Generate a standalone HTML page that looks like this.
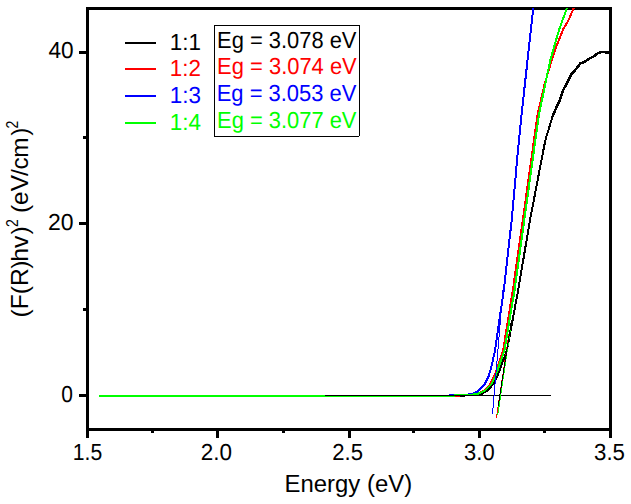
<!DOCTYPE html>
<html><head><meta charset="utf-8"><title>Tauc plot</title>
<style>
html,body{margin:0;padding:0;background:#fff;}
svg{display:block;font-family:"Liberation Sans",sans-serif;}
</style></head><body>
<svg width="631" height="504" viewBox="0 0 631 504">
<rect width="631" height="504" fill="#fff"/>
<g fill="#000" shape-rendering="crispEdges">
<rect x="86" y="7" width="526" height="3"/>
<rect x="86" y="428" width="526" height="3"/>
<rect x="86" y="7" width="3" height="431"/>
<rect x="609" y="7" width="3" height="431"/>
<rect x="86" y="431" width="3" height="7"/><rect x="216" y="431" width="3" height="7"/><rect x="348" y="431" width="3" height="7"/><rect x="478" y="431" width="3" height="7"/><rect x="609" y="431" width="3" height="7"/><rect x="151" y="431" width="3" height="2"/><rect x="282" y="431" width="3" height="2"/><rect x="412" y="431" width="3" height="2"/><rect x="543" y="431" width="3" height="2"/><rect x="79" y="394" width="7" height="3"/><rect x="79" y="222" width="7" height="3"/><rect x="79" y="51" width="7" height="3"/><rect x="83" y="308" width="3" height="3"/><rect x="83" y="136" width="3" height="3"/>
</g>
<g fill="none" stroke-width="2" stroke-linejoin="round" shape-rendering="crispEdges">
<polyline stroke="#000" points="99.0,396.0 464.0,396.0 465.0,395.0 474.0,395.0 481.8,393.8 487.5,390.6 493.2,384.2 497.7,375.4 507.0,350.0 518.2,290.0 530.0,220.0 543.4,150.0 545.8,138.3 548.9,128.6 553.0,115.0 559.8,100.0 563.3,90.0 566.9,82.9 571.7,73.9 576.4,68.6 580.6,63.2 584.8,61.8 589.5,58.5 594.3,56.1 597.9,53.3 601.0,52.0 609.0,52.0"/>
<polyline stroke="#000" stroke-width="2.6" points="553.0,115.0 559.8,100.0 563.3,90.0 566.9,82.9 571.7,73.9 576.4,68.6 580.6,63.2 584.8,61.8 589.5,58.5 594.3,56.1 597.9,53.3 601.0,52.0 609.0,52.0"/>
<rect x="605" y="51" width="4" height="3" fill="#000"/>
<polyline stroke="#f00" points="99.0,396.0 459.0,396.0 460.0,395.0 470.0,395.0 477.0,393.8 484.0,390.6 490.2,384.2 494.6,375.4 499.9,360.0 503.2,350.0 508.0,320.0 512.9,290.0 522.8,220.0 532.6,150.0 537.5,115.0 544.4,85.0 551.5,60.6 557.0,44.7 563.4,28.8 568.2,20.9 573.7,8.0"/>
<polyline stroke="#00f" points="99.0,396.0 449.0,396.0 449.5,395.0 465.0,395.0 471.6,394.0 477.4,391.5 484.3,385.0 488.8,376.0 492.2,363.5 495.1,350.0 499.0,323.0 503.8,290.0 511.7,220.0 518.0,150.0 521.5,115.0 524.8,85.0 533.3,8.0"/>
<polyline stroke="#0f0" points="99.0,396.0 454.0,396.0 455.0,395.0 470.0,395.0 478.0,393.8 485.0,390.6 491.3,384.2 495.8,375.4 504.5,350.0 514.6,290.0 524.3,220.0 534.0,150.0 538.9,115.0 545.5,83.0 550.2,60.6 554.7,44.7 559.4,28.8 567.0,8.0"/>
</g>
<g fill="none" stroke-width="1" shape-rendering="crispEdges">
<line stroke="#000" x1="325" y1="395.5" x2="551" y2="395.5"/>
<line stroke="#00f" x1="492.5" y1="414" x2="503" y2="290"/>
<line stroke="#f00" x1="496.3" y1="418.4" x2="509.6" y2="330"/>
<line stroke="#0f0" x1="497.7" y1="415.4" x2="510.3" y2="330"/>
<line stroke="#000" x1="498.2" y1="406" x2="511.5" y2="320"/>
</g>
<g fill="#000" shape-rendering="crispEdges"><rect x="214" y="25" width="146" height="1"/><rect x="214" y="25" width="1" height="112"/><rect x="359" y="25" width="1" height="111"/><rect x="214" y="136" width="145" height="1"/></g>
<rect x="125" y="42" width="31" height="2" fill="#000" shape-rendering="crispEdges"/><rect x="125" y="68" width="31" height="2" fill="#f00" shape-rendering="crispEdges"/><rect x="125" y="95" width="31" height="2" fill="#00f" shape-rendering="crispEdges"/><rect x="125" y="122" width="31" height="2" fill="#0f0" shape-rendering="crispEdges"/>
<text id="x15" transform="translate(72.73,459.95) rotate(0.05)" font-size="23.3px" fill="#000" textLength="29.43" lengthAdjust="spacingAndGlyphs">1.5</text>
<text id="x20" transform="translate(200.77,459.95) rotate(0.05)" font-size="23.3px" fill="#000" textLength="31.22" lengthAdjust="spacingAndGlyphs">2.0</text>
<text id="x25" transform="translate(332.30,459.95) rotate(0.05)" font-size="23.3px" fill="#000" textLength="30.71" lengthAdjust="spacingAndGlyphs">2.5</text>
<text id="x30" transform="translate(464.12,459.95) rotate(0.05)" font-size="23.3px" fill="#000" textLength="30.50" lengthAdjust="spacingAndGlyphs">3.0</text>
<text id="x35" transform="translate(594.07,459.95) rotate(0.05)" font-size="23.3px" fill="#000" textLength="30.90" lengthAdjust="spacingAndGlyphs">3.5</text>
<text id="y40" transform="translate(48.46,57.95) rotate(0.05)" font-size="23.3px" fill="#000" textLength="25.17" lengthAdjust="spacingAndGlyphs">40</text>
<text id="y20" transform="translate(47.99,229.95) rotate(0.05)" font-size="23.3px" fill="#000" textLength="25.58" lengthAdjust="spacingAndGlyphs">20</text>
<text id="y0" transform="translate(61.25,401.95) rotate(0.05)" font-size="23.3px" fill="#000" textLength="11.68" lengthAdjust="spacingAndGlyphs">0</text>
<text id="l0" transform="translate(169.80,49.95) rotate(0.05)" font-size="23.3px" fill="#000" textLength="31.20" lengthAdjust="spacingAndGlyphs">1:1</text>
<text id="e0" transform="translate(217.11,47.95) rotate(0.05)" font-size="23.3px" fill="#000" textLength="139.30" lengthAdjust="spacingAndGlyphs">Eg = 3.078 eV</text>
<text id="l1" transform="translate(169.80,75.95) rotate(0.05)" font-size="23.3px" fill="#f00" textLength="31.20" lengthAdjust="spacingAndGlyphs">1:2</text>
<text id="e1" transform="translate(217.11,73.95) rotate(0.05)" font-size="23.3px" fill="#f00" textLength="139.65" lengthAdjust="spacingAndGlyphs">Eg = 3.074 eV</text>
<text id="l2" transform="translate(169.80,102.95) rotate(0.05)" font-size="23.3px" fill="#00f" textLength="31.20" lengthAdjust="spacingAndGlyphs">1:3</text>
<text id="e2" transform="translate(216.74,100.95) rotate(0.05)" font-size="23.3px" fill="#00f" textLength="139.60" lengthAdjust="spacingAndGlyphs">Eg = 3.053 eV</text>
<text id="l3" transform="translate(169.80,129.95) rotate(0.05)" font-size="23.3px" fill="#0f0" textLength="31.20" lengthAdjust="spacingAndGlyphs">1:4</text>
<text id="e3" transform="translate(217.11,127.95) rotate(0.05)" font-size="23.3px" fill="#0f0" textLength="139.30" lengthAdjust="spacingAndGlyphs">Eg = 3.077 eV</text>
<text id="xt" transform="translate(284.57,491.60)" font-size="24.7px" fill="#000" textLength="127.55" lengthAdjust="spacingAndGlyphs">Energy (eV)</text>

<text id="ya" transform="translate(27.80,317.50) rotate(-90) scale(1.0521,1)" font-size="23.5px" x="0.00 7.83 22.18 30.01 46.41 53.09 65.97 78.86">(F(R)hv)</text>
<text id="yb" transform="translate(18.20,227.00) rotate(-90) scale(0.8252,1)" font-size="17px" x="0.00">2</text>
<text id="yc" transform="translate(27.80,213.00) rotate(-90) scale(1.0371,1)" font-size="23.5px" x="0.00 7.83 20.89 35.79 42.04 53.40 74.42">(eV/cm)</text>
<text id="yd" transform="translate(18.20,128.60) rotate(-90) scale(0.8252,1)" font-size="17px" x="0.00">2</text>

</svg>
</body></html>
